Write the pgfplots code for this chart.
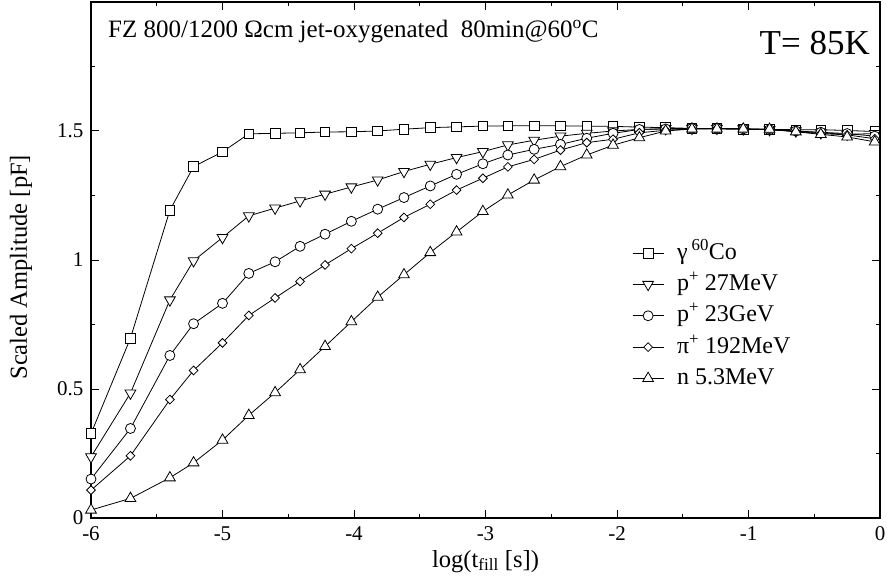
\documentclass[border=0pt]{standalone}
\usepackage{fontspec}
\setmainfont{Liberation Serif}
\usepackage{pgfplots}
\pgfplotsset{compat=1.18}
\pgfplotstableread{
x g p27 p23 pi n
-6.00 0.327 0.237 0.151 0.108 0.031
-5.70 0.697 0.484 0.347 0.241 0.076
-5.40 1.193 0.845 0.630 0.459 0.156
-5.22 1.362 0.997 0.753 0.572 0.214
-5.00 1.419 1.087 0.832 0.679 0.302
-4.80 1.489 1.171 0.948 0.785 0.398
-4.60 1.491 1.201 0.993 0.853 0.486
-4.41 1.493 1.229 1.053 0.917 0.575
-4.22 1.496 1.255 1.100 0.981 0.665
-4.02 1.497 1.283 1.150 1.044 0.761
-3.82 1.500 1.310 1.197 1.104 0.856
-3.62 1.507 1.343 1.242 1.165 0.943
-3.42 1.513 1.371 1.287 1.216 1.029
-3.22 1.516 1.397 1.332 1.271 1.109
-3.02 1.519 1.420 1.373 1.317 1.188
-2.83 1.520 1.446 1.407 1.361 1.252
-2.63 1.520 1.464 1.429 1.390 1.310
-2.43 1.520 1.480 1.448 1.426 1.362
-2.23 1.519 1.491 1.472 1.455 1.407
-2.03 1.518 1.500 1.491 1.468 1.445
-1.83 1.515 1.506 1.506 1.493 1.474
-1.63 1.513 1.509 1.508 1.503 1.500
-1.43 1.510 1.510 1.510 1.508 1.508
-1.24 1.509 1.510 1.510 1.510 1.508
-1.04 1.507 1.508 1.508 1.508 1.508
-0.84 1.506 1.505 1.505 1.505 1.507
-0.64 1.505 1.500 1.500 1.498 1.497
-0.45 1.505 1.493 1.495 1.490 1.487
-0.25 1.502 1.487 1.490 1.485 1.477
-0.04 1.498 1.490 1.480 1.470 1.458
}\datatable
\begin{document}
\begin{tikzpicture}
\begin{axis}[
  scale only axis,
  width=789pt, height=516pt,
  xmin=-6, xmax=0, ymin=0, ymax=2,
  xtick={-6,-5,-4,-3,-2,-1,0},
  minor xtick={-5.5,-4.5,-3.5,-2.5,-1.5,-0.5},
  ytick={0,0.5,1,1.5},
  minor ytick={0.25,0.75,1.25,1.75},
  tick align=inside,
  major tick length=8pt, minor tick length=4pt,
  every tick/.style={black, line width=1pt},
  axis line style={line width=1.3pt},
  /pgf/number format/assume math mode=true,
  tick label style={font=\rmfamily\fontsize{21}{24}\selectfont},
  xticklabel style={inner sep=0.5pt, yshift=-8pt},
  yticklabel style={inner sep=0.5pt, xshift=-7pt},
  xlabel={log(t\textsubscript{fill} [s])},
  ylabel={Scaled Amplitude [pF]},
  xlabel style={font=\rmfamily\fontsize{24.5}{28}\selectfont, at={(axis description cs:0.5,-0.095)}, anchor=base},
  ylabel style={font=\rmfamily\fontsize{24.5}{28}\selectfont, at={(axis description cs:-0.0887,0.486)}, anchor=center},
  legend style={at={(axis description cs:0.6857,0.5388)}, anchor=north west, draw=none, fill=none,
    font=\rmfamily\fontsize{24}{28}\selectfont, inner sep=0pt, row sep=5.3pt, column sep=11pt,
    nodes={inner sep=2pt, text height=17pt, text depth=5pt}},
  legend cell align=left,
  legend image code/.code={\draw[mark repeat=2,mark phase=2] plot coordinates {(0pt,0pt) (15.5pt,0pt) (31pt,0pt)};},
  every axis plot/.append style={black, line width=0.8pt},
  clip=false,
]
\addplot[mark=square*, mark size=4.8pt, mark options={fill=white, solid, line width=0.8pt}] table[x=x,y=g] {\datatable};
\addlegendentry{γ\,\textsuperscript{60}Co}
\addplot[mark=triangle*, mark size=6.2pt, mark options={fill=white, solid, line width=0.8pt, rotate=180}] table[x=x,y=p27] {\datatable};
\addlegendentry{p\textsuperscript{+} 27MeV}
\addplot[mark=*, mark size=5pt, mark options={fill=white, solid, line width=0.8pt}] table[x=x,y=p23] {\datatable};
\addlegendentry{p\textsuperscript{+} 23GeV}
\addplot[mark=square*, mark size=3.1pt, mark options={fill=white, solid, line width=0.8pt, rotate=45}] table[x=x,y=pi] {\datatable};
\addlegendentry{π\textsuperscript{+} 192MeV}
\addplot[mark=triangle*, mark size=6.2pt, mark options={fill=white, solid, line width=0.8pt}] table[x=x,y=n] {\datatable};
\addlegendentry{n 5.3MeV}
\node[anchor=base west, font=\rmfamily\fontsize{25}{29}\selectfont, inner sep=0pt] at ([xshift=17pt,yshift=-36pt]rel axis cs:0,1) {FZ 800/1200 Ωcm jet-oxygenated\ \ 80min@60\textsuperscript{o}C};
\node[anchor=base east, font=\rmfamily\fontsize{35}{40}\selectfont, inner sep=0pt] at ([xshift=-10pt,yshift=-53pt]rel axis cs:1,1) {T= 85K};
\end{axis}
\pgfresetboundingbox
\path[use as bounding box] ([xshift=-91pt,yshift=-63pt]current axis.south west) rectangle ([xshift=7pt,yshift=2pt]current axis.north east);
\end{tikzpicture}
\end{document}
